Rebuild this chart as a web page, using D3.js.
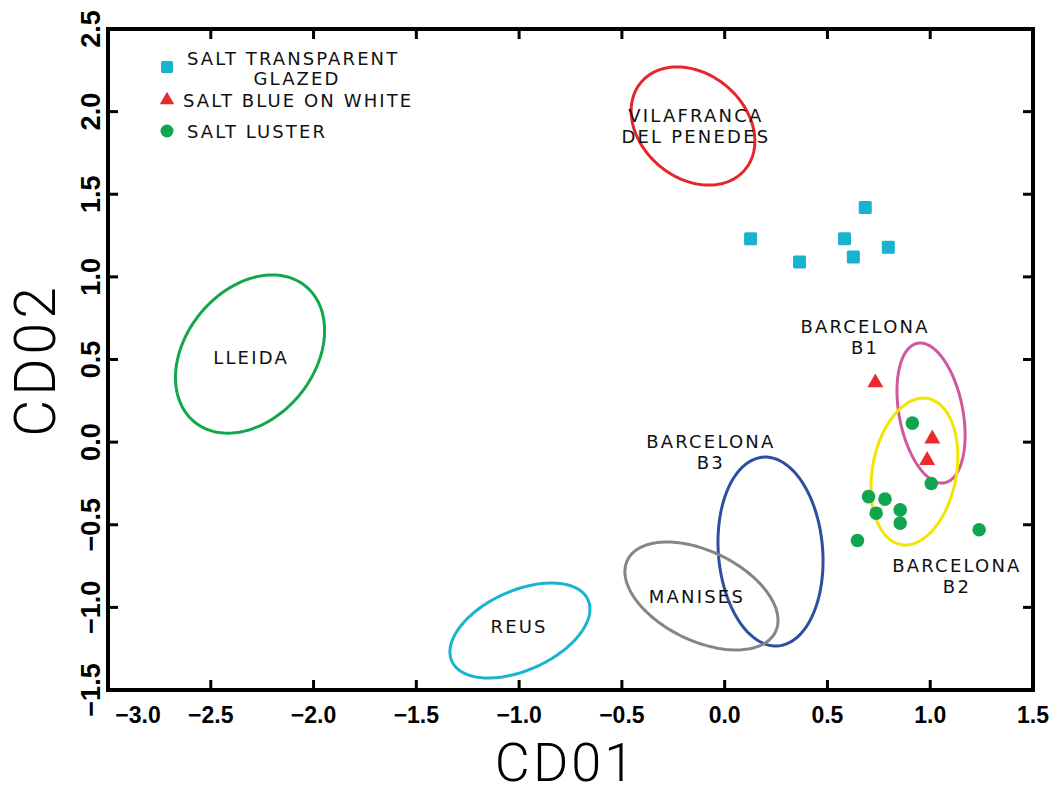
<!DOCTYPE html>
<html>
<head>
<meta charset="utf-8">
<script src="https://cdn.jsdelivr.net/npm/d3@7"></script>
<style>
    body { margin: 0; background: #fff; }
    svg { display: block; }
</style>
</head>
<body>
<svg id="chart" width="1059" height="796"></svg>
<script>
// tick values
const xTicks = [-3.0, -2.5, -2.0, -1.5, -1.0, -0.5, 0.0, 0.5, 1.0, 1.5];
const yTicks = [-1.5, -1.0, -0.5, 0.0, 0.5, 1.0, 1.5, 2.0, 2.5];

// samples [CD01, CD02]
const transparentGlazed = [[0.126, 1.23], [0.364, 1.09], [0.583, 1.23], [0.626, 1.12], [0.684, 1.42], [0.796, 1.18]];
const blueOnWhite = [[0.733, 0.36], [1.01, 0.02], [0.985, -0.11]];
const luster = [[0.913, 0.115], [1.005, -0.25], [0.70, -0.33], [0.78, -0.345], [0.737, -0.43],
    [0.854, -0.41], [0.854, -0.49], [0.646, -0.595], [1.238, -0.53]];

// reference groups: centre and two conjugate semi-axes (CD units)
const groupNames = ['VILAFRANCA', 'LLEIDA', 'BARCELONA B1', 'BARCELONA B2', 'BARCELONA B3', 'MANISES', 'REUS'];
const groupCentres = [[-0.154, 1.913], [-2.309, 0.533], [1.004, 0.176], [0.923, -0.178], [0.223, -0.662], [-0.113, -0.931], [-0.996, -1.140]];
const groupAxisA = [[0.253, -0.264], [0.271, 0.410], [0.066, -0.422], [0.065, 0.442], [0.036, -0.571], [0.360, -0.217], [0.331, 0.186]];
const groupAxisB = [[-0.163, -0.241], [0.241, -0.247], [-0.152, -0.037], [0.201, -0.046], [-0.253, -0.024], [-0.095, -0.244], [0.080, -0.219]];
const groupColors = ['#e8252b', '#12a74c', '#d0589f', '#f2e600', '#2f4ea0', '#858585', '#1ab3d1'];

// group labels: lines and anchor [CD01, CD02] of first line
const labelLines = [['VILAFRANCA', 'DEL PENEDES'], ['LLEIDA'], ['BARCELONA', 'B1'], ['BARCELONA', 'B2'], ['BARCELONA', 'B3'], ['MANISES'], ['REUS']];
const labelAnchors = [[-0.14, 1.937], [-2.304, 0.473], [0.683, 0.660], [1.130, -0.786], [-0.067, -0.036], [-0.135, -0.974], [-1.0, -1.155]];

const legendLabels = [['SALT TRANSPARENT', 'GLAZED'], ['SALT BLUE ON WHITE'], ['SALT LUSTER']];

const svg = d3.select('#chart');
const margin = { left: 108, top: 29, right: 1033, bottom: 690 };

const x = d3.scaleLinear().domain([-3, 1.5]).range([margin.left, margin.right]);
const y = d3.scaleLinear().domain([-1.5, 2.5]).range([margin.bottom, margin.top]);

const squareCol = '#19b2d0';
const triCol = '#ec2a2e';
const circCol = '#0fa64f';

// ellipses
const ellipseLine = d3.line()
    .x(d => x(d[0]))
    .y(d => y(d[1]))
    .curve(d3.curveLinearClosed);

groupNames.forEach((name, i) => {
    const c = groupCentres[i], a = groupAxisA[i], b = groupAxisB[i];
    const pts = d3.range(0, 2 * Math.PI, Math.PI / 90).map(t => [
        c[0] + a[0] * Math.cos(t) + b[0] * Math.sin(t),
        c[1] + a[1] * Math.cos(t) + b[1] * Math.sin(t)
    ]);
    svg.append('path')
        .attr('class', 'group-ellipse')
        .attr('d', ellipseLine(pts))
        .style('fill', 'none')
        .style('stroke', groupColors[i])
        .style('stroke-width', 3);
});

// group labels
labelLines.forEach((lines, i) => {
    const t = svg.append('text')
        .attr('x', x(labelAnchors[i][0]))
        .attr('y', y(labelAnchors[i][1]))
        .attr('text-anchor', 'middle')
        .style('font-family', '"DejaVu Sans", sans-serif')
        .style('font-size', '18px')
        .style('letter-spacing', '2.2px')
        .style('fill', '#111');
    lines.forEach((l, j) => {
        t.append('tspan')
            .attr('x', x(labelAnchors[i][0]))
            .attr('dy', j === 0 ? 0 : 21)
            .text(l);
    });
});

// points
svg.append('g').selectAll('rect')
    .data(transparentGlazed)
    .enter()
    .append('rect')
    .attr('x', d => x(d[0]) - 6.5)
    .attr('y', d => y(d[1]) - 6.5)
    .attr('width', 13)
    .attr('height', 13)
    .attr('rx', 1.5)
    .style('fill', squareCol);

svg.append('g').selectAll('path')
    .data(blueOnWhite)
    .enter()
    .append('path')
    .attr('transform', d => `translate(${x(d[0])},${y(d[1])})`)
    .attr('d', d3.symbol(d3.symbolTriangle, 110)())
    .style('fill', triCol);

svg.append('g').selectAll('circle')
    .data(luster)
    .enter()
    .append('circle')
    .attr('cx', d => x(d[0]))
    .attr('cy', d => y(d[1]))
    .attr('r', 6.8)
    .style('fill', circCol);

// frame and ticks
svg.append('rect')
    .attr('x', margin.left)
    .attr('y', margin.top)
    .attr('width', margin.right - margin.left)
    .attr('height', margin.bottom - margin.top)
    .style('fill', 'none')
    .style('stroke', '#000')
    .style('stroke-width', 4);

const tickStyle = sel => sel.style('stroke', '#000').style('stroke-width', 3);

svg.append('g').selectAll('line.xb')
    .data(xTicks.slice(1, -1))
    .enter()
    .append('line')
    .attr('x1', d => x(d)).attr('x2', d => x(d))
    .attr('y1', margin.bottom).attr('y2', margin.bottom - 10)
    .call(tickStyle);

svg.append('g').selectAll('line.xt')
    .data(xTicks.slice(1, -1))
    .enter()
    .append('line')
    .attr('x1', d => x(d)).attr('x2', d => x(d))
    .attr('y1', margin.top).attr('y2', margin.top + 10)
    .call(tickStyle);

svg.append('g').selectAll('line.yl')
    .data(yTicks.slice(1, -1))
    .enter()
    .append('line')
    .attr('x1', margin.left).attr('x2', margin.left + 10)
    .attr('y1', d => y(d)).attr('y2', d => y(d))
    .call(tickStyle);

svg.append('g').selectAll('line.yr')
    .data(yTicks.slice(1, -1))
    .enter()
    .append('line')
    .attr('x1', margin.right).attr('x2', margin.right - 10)
    .attr('y1', d => y(d)).attr('y2', d => y(d))
    .call(tickStyle);

const fmt = d3.format('.1f');

svg.append('g').selectAll('text')
    .data(xTicks)
    .enter()
    .append('text')
    .attr('x', (d, i) => x(d) + (i === 0 ? 30 : 0))
    .attr('y', 723)
    .attr('text-anchor', 'middle')
    .style('font-family', '"Liberation Sans", Arial, sans-serif')
    .style('font-weight', 'bold')
    .style('font-size', '23px')
    .text(d => fmt(d));

svg.append('g').selectAll('text')
    .data(yTicks)
    .enter()
    .append('text')
    .attr('transform', d => `translate(100,${y(d)}) rotate(-90)`)
    .attr('text-anchor', 'middle')
    .style('font-family', '"Liberation Sans", Arial, sans-serif')
    .style('font-weight', 'bold')
    .style('font-size', '27px')
    .text(d => fmt(d));

// axis titles
svg.append('text')
    .attr('x', 566)
    .attr('y', 781)
    .attr('text-anchor', 'middle')
    .style('font-family', 'Roboto, sans-serif')
    .style('font-weight', 300)
    .style('font-size', '54px')
    .style('letter-spacing', '3px')
    .text('CD01');

svg.append('text')
    .attr('transform', 'translate(55,360) rotate(-90)')
    .attr('text-anchor', 'middle')
    .style('font-family', 'Roboto, sans-serif')
    .style('font-weight', 300)
    .style('font-size', '57px')
    .style('letter-spacing', '4px')
    .text('CD02');

// legend
const legend = svg.append('g').attr('class', 'legend');
const legendY = [67, 100, 131];

legend.append('rect')
    .attr('x', 161).attr('y', legendY[0] - 6)
    .attr('width', 12).attr('height', 12)
    .attr('rx', 1.5)
    .style('fill', squareCol);
legend.append('path')
    .attr('transform', `translate(167,${legendY[1]})`)
    .attr('d', d3.symbol(d3.symbolTriangle, 90)())
    .style('fill', triCol);
legend.append('circle')
    .attr('cx', 167).attr('cy', legendY[2])
    .attr('r', 6.5)
    .style('fill', circCol);

const legendBase = [[65, 85], [107], [138]];
const legendX = [[187, 297], [183], [187]];
legendLabels.forEach((lines, i) => {
    lines.forEach((l, j) => {
        legend.append('text')
            .attr('x', legendX[i][j])
            .attr('y', legendBase[i][j])
            .attr('text-anchor', j === 0 ? 'start' : 'middle')
            .style('font-family', '"DejaVu Sans", sans-serif')
            .style('font-size', '18px')
            .style('letter-spacing', '2.1px')
            .style('fill', '#111')
            .text(l);
    });
});
</script>
</body>
</html>
